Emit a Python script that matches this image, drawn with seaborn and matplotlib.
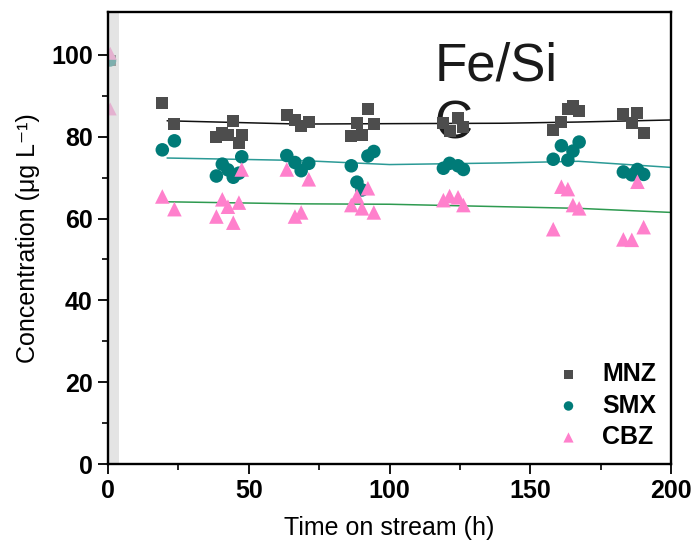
import numpy as np
import pandas as pd
import matplotlib
matplotlib.use("Agg")
import matplotlib.pyplot as plt
import seaborn as sns

# ---- data ----
time_h = [19.3, 23.6, 38.5, 40.6, 42.6, 44.5, 46.5, 47.5, 63.5, 66.4, 68.6, 71.3,
          86.4, 88.4, 90.2, 92.3, 94.4, 119.1, 121.3, 124.3, 126.2,
          158.1, 161.0, 163.3, 165.1, 167.3, 183.0, 186.0, 188.0, 190.2]
mnz = [88.3, 83.1, 80.0, 80.8, 80.4, 83.9, 78.4, 80.4, 85.3, 84.0, 82.7, 83.7,
       80.2, 83.3, 80.4, 86.7, 83.1, 83.3, 81.3, 84.5, 82.5,
       81.7, 83.5, 86.7, 87.4, 86.4, 85.5, 83.3, 85.7, 81.0]
smx = [76.8, 79.0, 70.4, 73.3, 71.9, 70.1, 71.1, 75.1, 75.4, 73.7, 71.7, 73.5,
       72.9, 68.9, 67.0, 75.3, 76.4, 72.3, 73.5, 72.9, 72.0,
       74.5, 77.8, 74.3, 76.5, 78.7, 71.4, 70.7, 72.0, 70.8]
cbz = [65.4, 62.3, 60.5, 64.7, 62.9, 59.0, 63.9, 72.0, 72.0, 60.5, 61.5, 69.6,
       63.3, 65.5, 62.5, 67.4, 61.5, 64.5, 65.5, 65.2, 63.3,
       57.4, 67.8, 67.2, 63.3, 62.5, 54.9, 54.8, 69.0, 57.9]

# points at start (behind the grey band)
t0_time = [0.8, 0.8, 0.8, 0.8]
t0_vals = [98.6, 98.6, 100.4, 86.8]
t0_comp = ["MNZ", "SMX", "CBZ", "CBZ"]

# trend lines
trend_x = [21, 68, 100, 140, 167, 200]
mnz_trend = [83.9, 83.1, 83.2, 83.3, 83.6, 84.1]
smx_trend = [74.8, 74.2, 73.2, 73.6, 74.0, 72.5]
cbz_trend = [64.1, 63.6, 63.5, 62.9, 62.5, 61.5]

compounds = ["MNZ", "SMX", "CBZ"]
trends = {"MNZ": mnz_trend, "SMX": smx_trend, "CBZ": cbz_trend}
colors = {"MNZ": "#4d4d4d", "SMX": "#007b78", "CBZ": "#ff80cc"}
line_colors = {"MNZ": "#111111", "SMX": "#2b9a96", "CBZ": "#2e9a50"}
markers = {"MNZ": "s", "SMX": "o", "CBZ": "^"}
sizes = {"MNZ": 75, "SMX": 95, "CBZ": 110}

df = pd.DataFrame({
    "time": np.tile(time_h, 3),
    "conc": mnz + smx + cbz,
    "comp": np.repeat(compounds, len(time_h)),
})
df0 = pd.DataFrame({"time": t0_time, "conc": t0_vals, "comp": t0_comp})

sns.set_style("ticks")
plt.rcParams["font.family"] = ["Liberation Sans", "DejaVu Sans"]
plt.rcParams["text.color"] = "black"
plt.rcParams["axes.labelcolor"] = "black"
plt.rcParams["xtick.color"] = "black"
plt.rcParams["ytick.color"] = "black"

fig = plt.figure(figsize=(6.92, 5.44), dpi=100)
ax = fig.add_axes([0.156, 0.147, 0.814, 0.831])

# start points, faded under the grey band
for c in compounds:
    d0 = df0[df0["comp"] == c]
    if len(d0):
        sns.scatterplot(data=d0, x="time", y="conc", color=colors[c], marker=markers[c],
                        s=sizes[c] * 0.8, edgecolor="none", ax=ax, zorder=1, legend=False)
ax.axvspan(0, 3.9, color="#d3d3d3", alpha=0.6, zorder=2, lw=0)

# trend lines
for c in compounds:
    tr = pd.DataFrame({"time": trend_x, "conc": trends[c]})
    sns.lineplot(data=tr, x="time", y="conc", color=line_colors[c], lw=1.1, ax=ax, zorder=2.5)

for c in compounds:
    d = df[df["comp"] == c]
    sns.scatterplot(data=d, x="time", y="conc", color=colors[c], marker=markers[c],
                    s=sizes[c], edgecolor="none", ax=ax, zorder=3, label=c)

ax.text(116, 103.3, "Fe/Si\nC", fontsize=38, color="#1a1a1a", va="top", ha="left",
        linespacing=1.2, zorder=2.8)

ax.set_xlim(0, 200)
ax.set_ylim(0, 110.5)
ax.set_xticks([0, 50, 100, 150, 200])
ax.set_xticks([25, 75, 125, 175], minor=True)
ax.set_yticks([0, 20, 40, 60, 80, 100])
ax.set_yticks([10, 30, 50, 70, 90], minor=True)
ax.tick_params(axis="both", which="major", direction="out", length=7, width=1.3,
               labelsize=18, pad=4)
ax.tick_params(axis="both", which="minor", direction="out", length=4, width=1.2)
for lab in ax.get_xticklabels() + ax.get_yticklabels():
    lab.set_fontweight("bold")
for sp in ax.spines.values():
    sp.set_visible(True)
    sp.set_linewidth(1.7)
    sp.set_color("black")

ax.set_xlabel("Time on stream (h)", fontsize=18, labelpad=9)
ax.set_ylabel("Concentration (μg L⁻¹)", fontsize=18, labelpad=8)

leg = ax.legend(loc="lower right", bbox_to_anchor=(1.0, 0.0), frameon=False,
                prop={"weight": "bold", "size": 18}, handlelength=0.8,
                handletextpad=0.95, labelspacing=0.3, markerscale=0.7,
                borderaxespad=0.2)

fig.savefig("out.png", dpi=100)
